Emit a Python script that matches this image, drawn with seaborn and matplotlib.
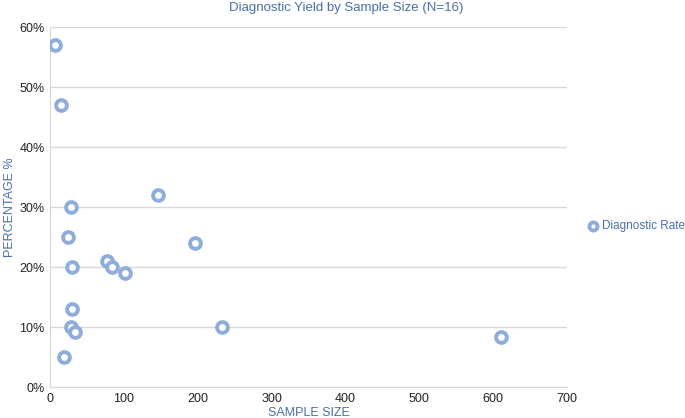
import pandas as pd
import seaborn as sns
import matplotlib.pyplot as plt
from matplotlib.ticker import PercentFormatter

sample_size = [7, 15, 29, 24, 30, 30, 28, 34, 19, 77, 84, 101, 146, 196, 233, 611]
diag_rate = [57, 47, 30, 25, 20, 13, 10, 9.1, 5, 21, 20, 19, 32, 24, 10, 8.4]

df = pd.DataFrame({'SAMPLE SIZE': sample_size, 'PERCENTAGE %': diag_rate})

sns.set_style('white')
plt.rcParams['font.family'] = ['Liberation Sans', 'DejaVu Sans']

blue = '#4a6fa5'
ring = '#8eaddb'

fig = plt.figure(figsize=(6.85, 4.18), dpi=100)
ax = fig.add_axes([0.073, 0.074, 0.755, 0.861])

sns.scatterplot(data=df, x='SAMPLE SIZE', y='PERCENTAGE %', ax=ax,
                marker='o', s=60, facecolor='white', edgecolor=ring,
                linewidth=2.8, label='Diagnostic Rate', zorder=3)

ax.set_xlim(0, 700)
ax.set_ylim(0, 60)
ax.set_xticks(range(0, 701, 100))
ax.set_yticks(range(0, 61, 10))
ax.yaxis.set_major_formatter(PercentFormatter(decimals=0))
ax.grid(axis='y', color='#d9d9d9', linewidth=1)
ax.grid(axis='x', visible=False)
for s in ['top', 'right']:
    ax.spines[s].set_visible(False)
for s in ['left', 'bottom']:
    ax.spines[s].set_color('#d9d9d9')
ax.tick_params(axis='both', labelsize=9, colors='#222222', length=0, pad=4)

fig.suptitle('Diagnostic Yield by Sample Size (N=16)', color=blue, fontsize=9.5,
             x=0.505, y=0.995, va='top')
ax.set_xlabel('SAMPLE SIZE', color=blue, fontsize=9, labelpad=2)
ax.set_ylabel('PERCENTAGE %', color=blue, fontsize=9, labelpad=2)

leg = ax.legend(loc='center left', bbox_to_anchor=(1.03, 0.447), frameon=False,
                fontsize=8.5, handlelength=0.8, handletextpad=0.3,
                markerscale=0.75, borderpad=0)
for t in leg.get_texts():
    t.set_color(blue)

plt.savefig('out.png', dpi=100)
